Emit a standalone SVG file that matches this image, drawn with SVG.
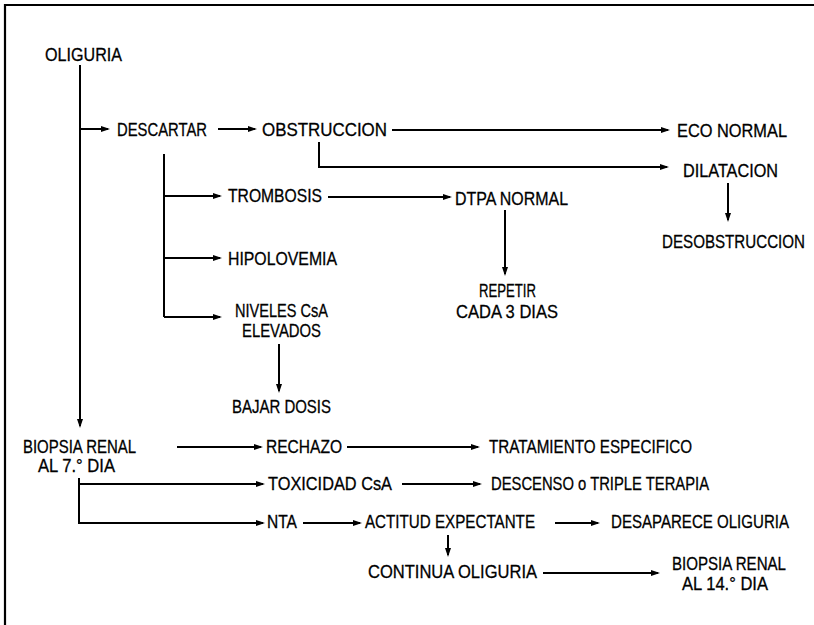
<svg xmlns="http://www.w3.org/2000/svg" width="814" height="625" viewBox="0 0 814 625">
<style>
text{font-family:"Liberation Sans",Arial,sans-serif;font-size:19px;fill:#000;stroke:#000;stroke-width:0.3}
.c path{fill:none;stroke:#000;stroke-width:2;marker-end:url(#ah)}
.c path.n{marker-end:none}
.frame{fill:none;stroke:#000;stroke-width:2.2}
</style>
<defs>
<marker id="ah" markerUnits="userSpaceOnUse" markerWidth="12" markerHeight="8" refX="7" refY="4" orient="auto">
<path d="M0,1 L9,4 L0,7 Z" fill="#000"/>
</marker>
</defs>
<rect width="814" height="625" fill="#fff"/>
<path class="frame" d="M5,625 V5 H814"/>
<g class="c" id="connectors">
<path d="M80,65 V426"/>
<path d="M80,129 H108"/>
<path d="M218,129 H255"/>
<path d="M392,130 H668"/>
<path d="M319,142 V167 H667"/>
<path class="n" d="M164,154 V317"/>
<path d="M164,196 H220"/>
<path d="M164,258 H220"/>
<path d="M164,317 H220"/>
<path d="M328,197 H450"/>
<path d="M505,210 V274"/>
<path d="M728,183 V220"/>
<path d="M279,344 V391"/>
<path d="M177,447 H261"/>
<path d="M347,447 H478"/>
<path d="M79,478 V523 H263"/>
<path d="M79,484 H263"/>
<path d="M402,484 H480"/>
<path d="M303,523 H360"/>
<path d="M555,523 H598"/>
<path d="M448,535 V555"/>
<path d="M543,573 H658"/>
</g>
<g id="n-oliguria"><text x="45" y="61" textLength="77" lengthAdjust="spacingAndGlyphs">OLIGURIA</text></g>
<g id="n-descartar"><text x="117" y="136" textLength="90" lengthAdjust="spacingAndGlyphs">DESCARTAR</text></g>
<g id="n-obstruccion"><text x="262" y="136" textLength="125" lengthAdjust="spacingAndGlyphs">OBSTRUCCION</text></g>
<g id="n-eco"><text x="677" y="137" textLength="110" lengthAdjust="spacingAndGlyphs">ECO NORMAL</text></g>
<g id="n-dilatacion"><text x="683" y="177" textLength="95" lengthAdjust="spacingAndGlyphs">DILATACION</text></g>
<g id="n-desobstruccion"><text transform="translate(662,248) scale(0.8,1)" x="0" y="0" textLength="178.75" lengthAdjust="spacingAndGlyphs">DESOBSTRUCCION</text></g>
<g id="n-trombosis"><text x="228" y="202" textLength="94" lengthAdjust="spacingAndGlyphs">TROMBOSIS</text></g>
<g id="n-dtpa"><text x="455" y="205" textLength="113" lengthAdjust="spacingAndGlyphs">DTPA NORMAL</text></g>
<g id="n-repetir"><text x="479" y="297" textLength="57" lengthAdjust="spacingAndGlyphs">REPETIR</text><text x="456" y="318" textLength="102" lengthAdjust="spacingAndGlyphs">CADA 3 DIAS</text></g>
<g id="n-hipolovemia"><text x="228" y="265" textLength="109" lengthAdjust="spacingAndGlyphs">HIPOLOVEMIA</text></g>
<g id="n-niveles"><text x="235" y="317" textLength="93" lengthAdjust="spacingAndGlyphs">NIVELES CsA</text><text x="242" y="337" textLength="79" lengthAdjust="spacingAndGlyphs">ELEVADOS</text></g>
<g id="n-bajar"><text x="232" y="413" textLength="99" lengthAdjust="spacingAndGlyphs">BAJAR DOSIS</text></g>
<g id="n-biopsia7"><text x="23" y="453" textLength="113" lengthAdjust="spacingAndGlyphs">BIOPSIA RENAL</text><text x="38" y="472" textLength="77" lengthAdjust="spacingAndGlyphs">AL 7.° DIA</text></g>
<g id="n-rechazo"><text x="266" y="453" textLength="76" lengthAdjust="spacingAndGlyphs">RECHAZO</text></g>
<g id="n-tratamiento"><text x="489" y="453" textLength="203" lengthAdjust="spacingAndGlyphs">TRATAMIENTO ESPECIFICO</text></g>
<g id="n-toxicidad"><text x="268" y="490" textLength="124" lengthAdjust="spacingAndGlyphs">TOXICIDAD CsA</text></g>
<g id="n-descenso"><text x="491" y="490" textLength="218" lengthAdjust="spacingAndGlyphs">DESCENSO o TRIPLE TERAPIA</text></g>
<g id="n-nta"><text x="267" y="528" textLength="30" lengthAdjust="spacingAndGlyphs">NTA</text></g>
<g id="n-actitud"><text x="365" y="528" textLength="170" lengthAdjust="spacingAndGlyphs">ACTITUD EXPECTANTE</text></g>
<g id="n-desaparece"><text transform="translate(611,528) scale(0.85,1)" x="0" y="0" textLength="209.4" lengthAdjust="spacingAndGlyphs">DESAPARECE OLIGURIA</text></g>
<g id="n-continua"><text x="368" y="578" textLength="169" lengthAdjust="spacingAndGlyphs">CONTINUA OLIGURIA</text></g>
<g id="n-biopsia14"><text x="672" y="570" textLength="114" lengthAdjust="spacingAndGlyphs">BIOPSIA RENAL</text><text x="682" y="590" textLength="86" lengthAdjust="spacingAndGlyphs">AL 14.° DIA</text></g>
</svg>
